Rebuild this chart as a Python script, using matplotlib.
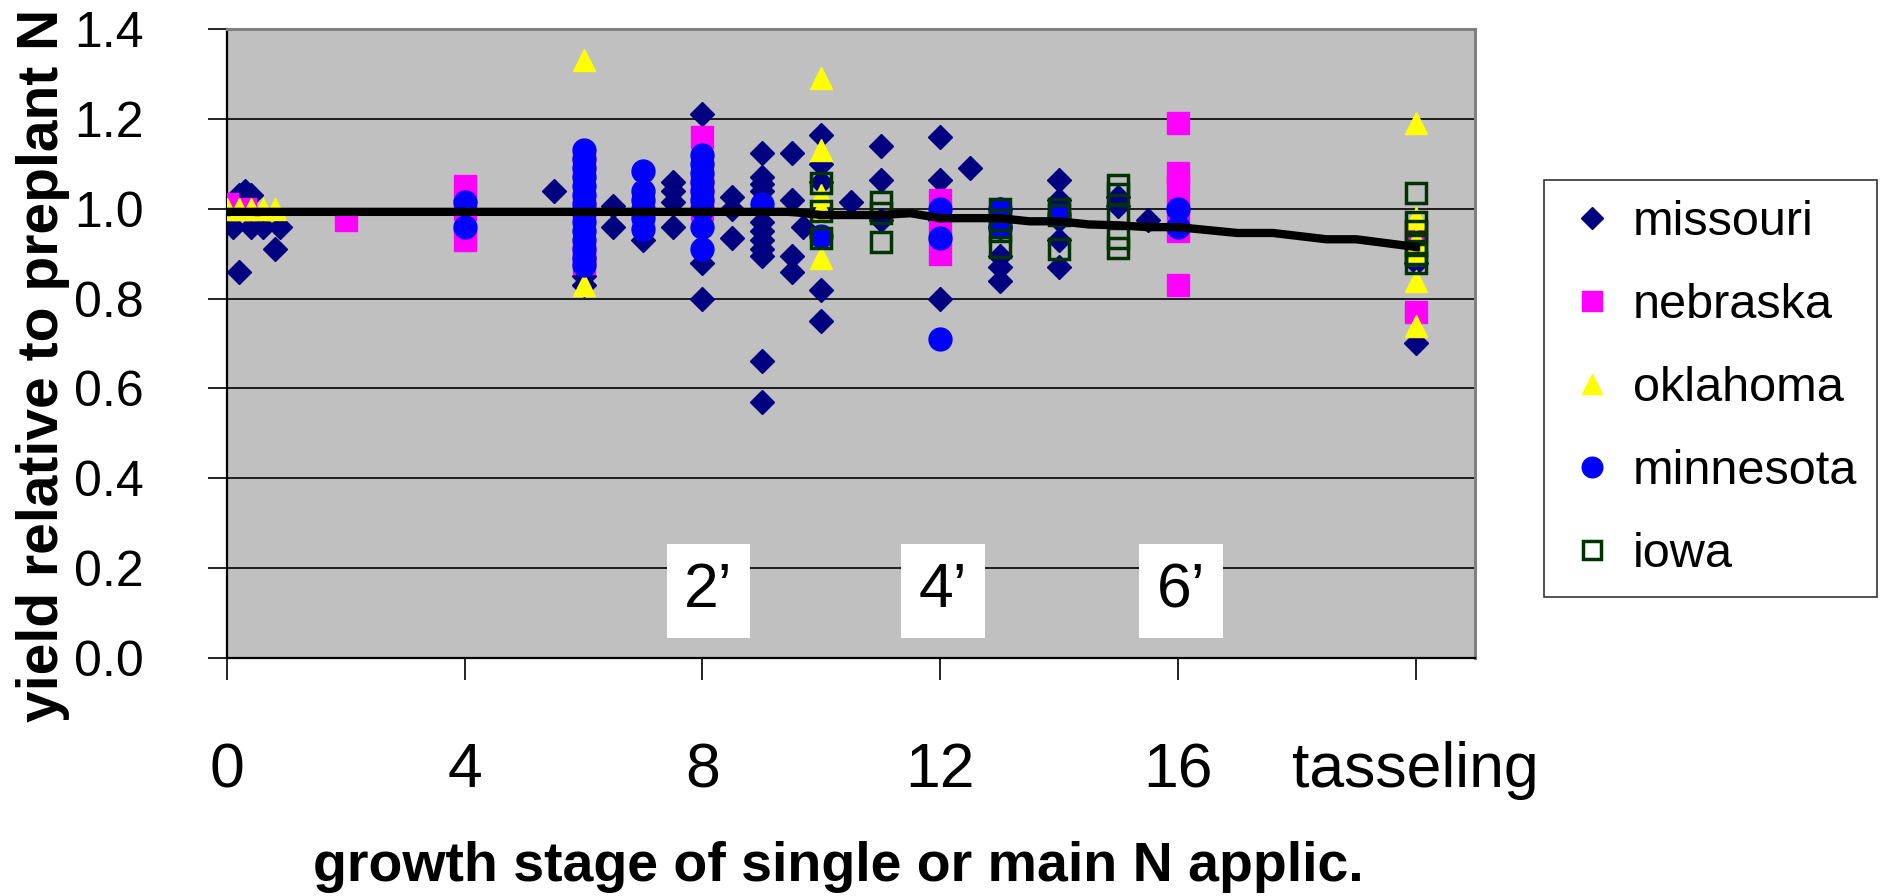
import matplotlib
matplotlib.use('Agg')
import matplotlib.pyplot as plt
from matplotlib.lines import Line2D

plt.rcParams['font.family'] = ['Liberation Sans', 'DejaVu Sans']

# data: growth stage (tasseling = 20) and relative yield
mo_x = [0.0, 0.2, 0.4, 0.3, 0.1, 0.4, 0.6, 0.9, 0.8, 0.2,
        5.5, 6, 6, 6.5, 6.5, 7, 7.5, 7.5, 7.5, 7.5,
        8, 8, 8, 8.5, 8.5, 8.5,
        9, 9, 9, 9, 9, 9, 9, 9, 9, 9, 9,
        9.5, 9.5, 9.5, 9.5, 9.7,
        10, 10, 10, 10, 10, 10, 10.5,
        11, 11, 11, 12, 12, 12, 12, 12.5,
        13, 13, 13, 13, 13, 14, 14, 14, 14, 14,
        15, 15, 15.5, 20, 20]
mo_y = [1.00, 1.03, 1.03, 1.04, 0.96, 0.96, 0.96, 0.96, 0.91, 0.86,
        1.04, 0.85, 0.83, 1.005, 0.96, 0.93, 1.06, 1.04, 1.015, 0.96,
        1.21, 0.88, 0.80, 1.025, 1.00, 0.935,
        1.125, 1.07, 1.055, 1.04, 0.97, 0.95, 0.93, 0.91, 0.895, 0.66, 0.57,
        1.125, 1.02, 0.895, 0.86, 0.96,
        1.165, 1.10, 1.06, 1.00, 0.82, 0.75, 1.015,
        1.14, 1.065, 0.975, 1.16, 1.065, 0.975, 0.80, 1.09,
        1.00, 0.96, 0.895, 0.87, 0.84, 1.065, 1.02, 0.975, 0.93, 0.87,
        1.025, 1.005, 0.975, 0.88, 0.70]

ne_x = [0.0, 0.3, 2, 4, 4, 4, 6, 6, 6, 6, 8, 8, 8,
        12, 12, 12, 16, 16, 16, 16, 16, 16, 20, 20]
ne_y = [1.01, 1.00, 0.975, 1.05, 1.00, 0.93, 1.10, 1.00, 0.90, 0.88, 1.16, 1.05, 1.00,
        1.02, 0.95, 0.90, 1.19, 1.08, 1.05, 1.00, 0.95, 0.83, 0.95, 0.77]

ok_x = [0, 0.2, 0.4, 0.6, 0.8, 6, 6, 6,
        10, 10, 10, 10, 10, 10, 20, 20, 20, 20, 20, 20]
ok_y = [1.0, 1.0, 1.0, 1.0, 1.0, 1.33, 1.12, 0.83,
        1.29, 1.13, 1.03, 1.00, 0.95, 0.89, 1.19, 0.98, 0.93, 0.90, 0.84, 0.74]

mn_x = [4, 4,
        6, 6, 6, 6, 6, 6, 6, 6, 6, 6, 6, 6, 6, 6,
        7, 7, 7, 7, 7, 7,
        8, 8, 8, 8, 8, 8, 8, 8, 8,
        9, 10, 12, 12, 12, 13, 13, 14, 16, 16]
mn_y = [1.015, 0.96,
        1.13, 1.11, 1.09, 1.07, 1.05, 1.03, 1.01, 0.99, 0.97, 0.95, 0.93, 0.91, 0.89, 0.875,
        1.085, 1.04, 1.02, 1.00, 0.98, 0.955,
        1.12, 1.10, 1.08, 1.06, 1.04, 1.02, 1.00, 0.96, 0.91,
        1.01, 0.94, 1.00, 0.935, 0.71, 1.00, 0.96, 0.985, 1.00, 0.96]

ia_x = [10, 10, 10, 11, 11, 11, 13, 13, 13, 13, 14, 14, 14,
        15, 15, 15, 15, 15, 20, 20, 20, 20, 20, 20]
ia_y = [1.057, 0.995, 0.935, 1.015, 0.99, 0.925, 1.00, 0.975, 0.95, 0.915, 1.00, 0.986, 0.91,
        1.053, 1.033, 0.986, 0.934, 0.913, 1.035, 0.97, 0.95, 0.92, 0.90, 0.88]

# trend line and its mean markers
trend_x = [0, 9.5, 10, 11, 11.5, 12, 13, 13.5, 14, 14.5, 15, 15.5, 16, 17, 17.6, 18.5, 19, 20]
trend_y = [0.993, 0.993, 0.986, 0.986, 0.99, 0.979, 0.979, 0.972, 0.972, 0.965, 0.963,
           0.959, 0.959, 0.946, 0.946, 0.932, 0.932, 0.915]
mean_x = [0, 0.5, 4, 6, 7, 8, 8.5, 9, 9.5, 10, 11, 12, 13, 14, 15, 15.5, 16, 20]
mean_y = [0.993, 0.993, 0.993, 0.993, 0.993, 0.993, 0.993, 0.993, 0.993, 0.986, 0.986,
          0.979, 0.979, 0.972, 0.963, 0.959, 0.959, 0.915]

x_ticks = [0, 4, 8, 12, 16, 20]
x_labels = ['0', '4', '8', '12', '16', 'tasseling']
y_ticks = [0.0, 0.2, 0.4, 0.6, 0.8, 1.0, 1.2, 1.4]

box_labels = ['2\u2019', '4\u2019', '6\u2019']
box_x = [8.1, 12.05, 16.05]
box_y = 0.15

fig = plt.figure(figsize=(18.83, 8.96), dpi=100)
ax = fig.add_axes([227 / 1883, 1 - 658 / 896, (1475 - 227) / 1883, (658 - 29) / 896])
ax.set_facecolor('#C0C0C0')

mo_style = dict(ls='none', marker='D', ms=12.5, color='#000080')
ne_style = dict(ls='none', marker='s', ms=16.5, color='#FF00FF')
ok_style = dict(ls='none', marker='^', ms=16.5, color='#FFFF00')
mn_style = dict(ls='none', marker='o', ms=16.5, color='#0000FF')
ia_style = dict(ls='none', marker='s', ms=15, mfc='none', mec='#003300', mew=2.5)

ax.plot(mo_x, mo_y, zorder=3, **mo_style)
ax.plot(ne_x, ne_y, zorder=4, **ne_style)
ax.plot(ok_x, ok_y, zorder=5, **ok_style)
ax.plot(mn_x, mn_y, zorder=6, **mn_style)
ax.plot(ia_x, ia_y, zorder=7, **ia_style)
ax.plot(trend_x, trend_y, color='black', lw=6, zorder=8)
ax.plot(mean_x, mean_y, ls='none', marker='s', ms=5, color='black', zorder=9)

for lab, bx in zip(box_labels, box_x):
    ax.text(bx, box_y, lab, ha='center', va='center', fontsize=45, zorder=10,
            bbox=dict(boxstyle='square,pad=0.28', facecolor='white', edgecolor='none'))

ax.set_xlim(0, 21)
ax.set_ylim(0, 1.4)
ax.set_xticks(x_ticks)
ax.set_xticklabels(x_labels)
ax.set_yticks(y_ticks)
ax.set_yticklabels([f'{v:.1f}' for v in y_ticks])
ax.yaxis.grid(True, color='black', lw=1.2)
ax.set_axisbelow(True)

ax.tick_params(axis='x', direction='out', length=16, width=1.2, pad=44, labelsize=45)
ax.tick_params(axis='y', direction='out', length=14, width=1.2, pad=46, labelsize=36)
for side in ['left', 'bottom']:
    ax.spines[side].set_color('black')
    ax.spines[side].set_linewidth(1.6)
for side in ['top', 'right']:
    ax.spines[side].set_color('#808080')
    ax.spines[side].set_linewidth(2.2)

ax.set_ylabel('yield relative to preplant N', fontsize=41, fontweight='bold')
ax.yaxis.set_label_coords(-0.126, 0.466)
ax.set_xlabel('growth stage of single or main N applic.', fontsize=40, fontweight='bold')
ax.xaxis.set_label_coords(0.49, -0.291)

handles = [Line2D([], [], **s) for s in (mo_style, ne_style, ok_style, mn_style, ia_style)]
names = ['missouri', 'nebraska', 'oklahoma', 'minnesota', 'iowa']
leg = fig.legend(handles, names, loc='upper left', bbox_to_anchor=(1544 / 1883, 1 - 180 / 896),
                 borderaxespad=0, fontsize=35, frameon=True, fancybox=False, markerscale=0.9,
                 borderpad=0.41, handlelength=1.15, handletextpad=0.27, labelspacing=0.78)
leg.get_frame().set_edgecolor('black')
leg.get_frame().set_linewidth(1.2)

fig.savefig('out.png', dpi=100, facecolor='white')
